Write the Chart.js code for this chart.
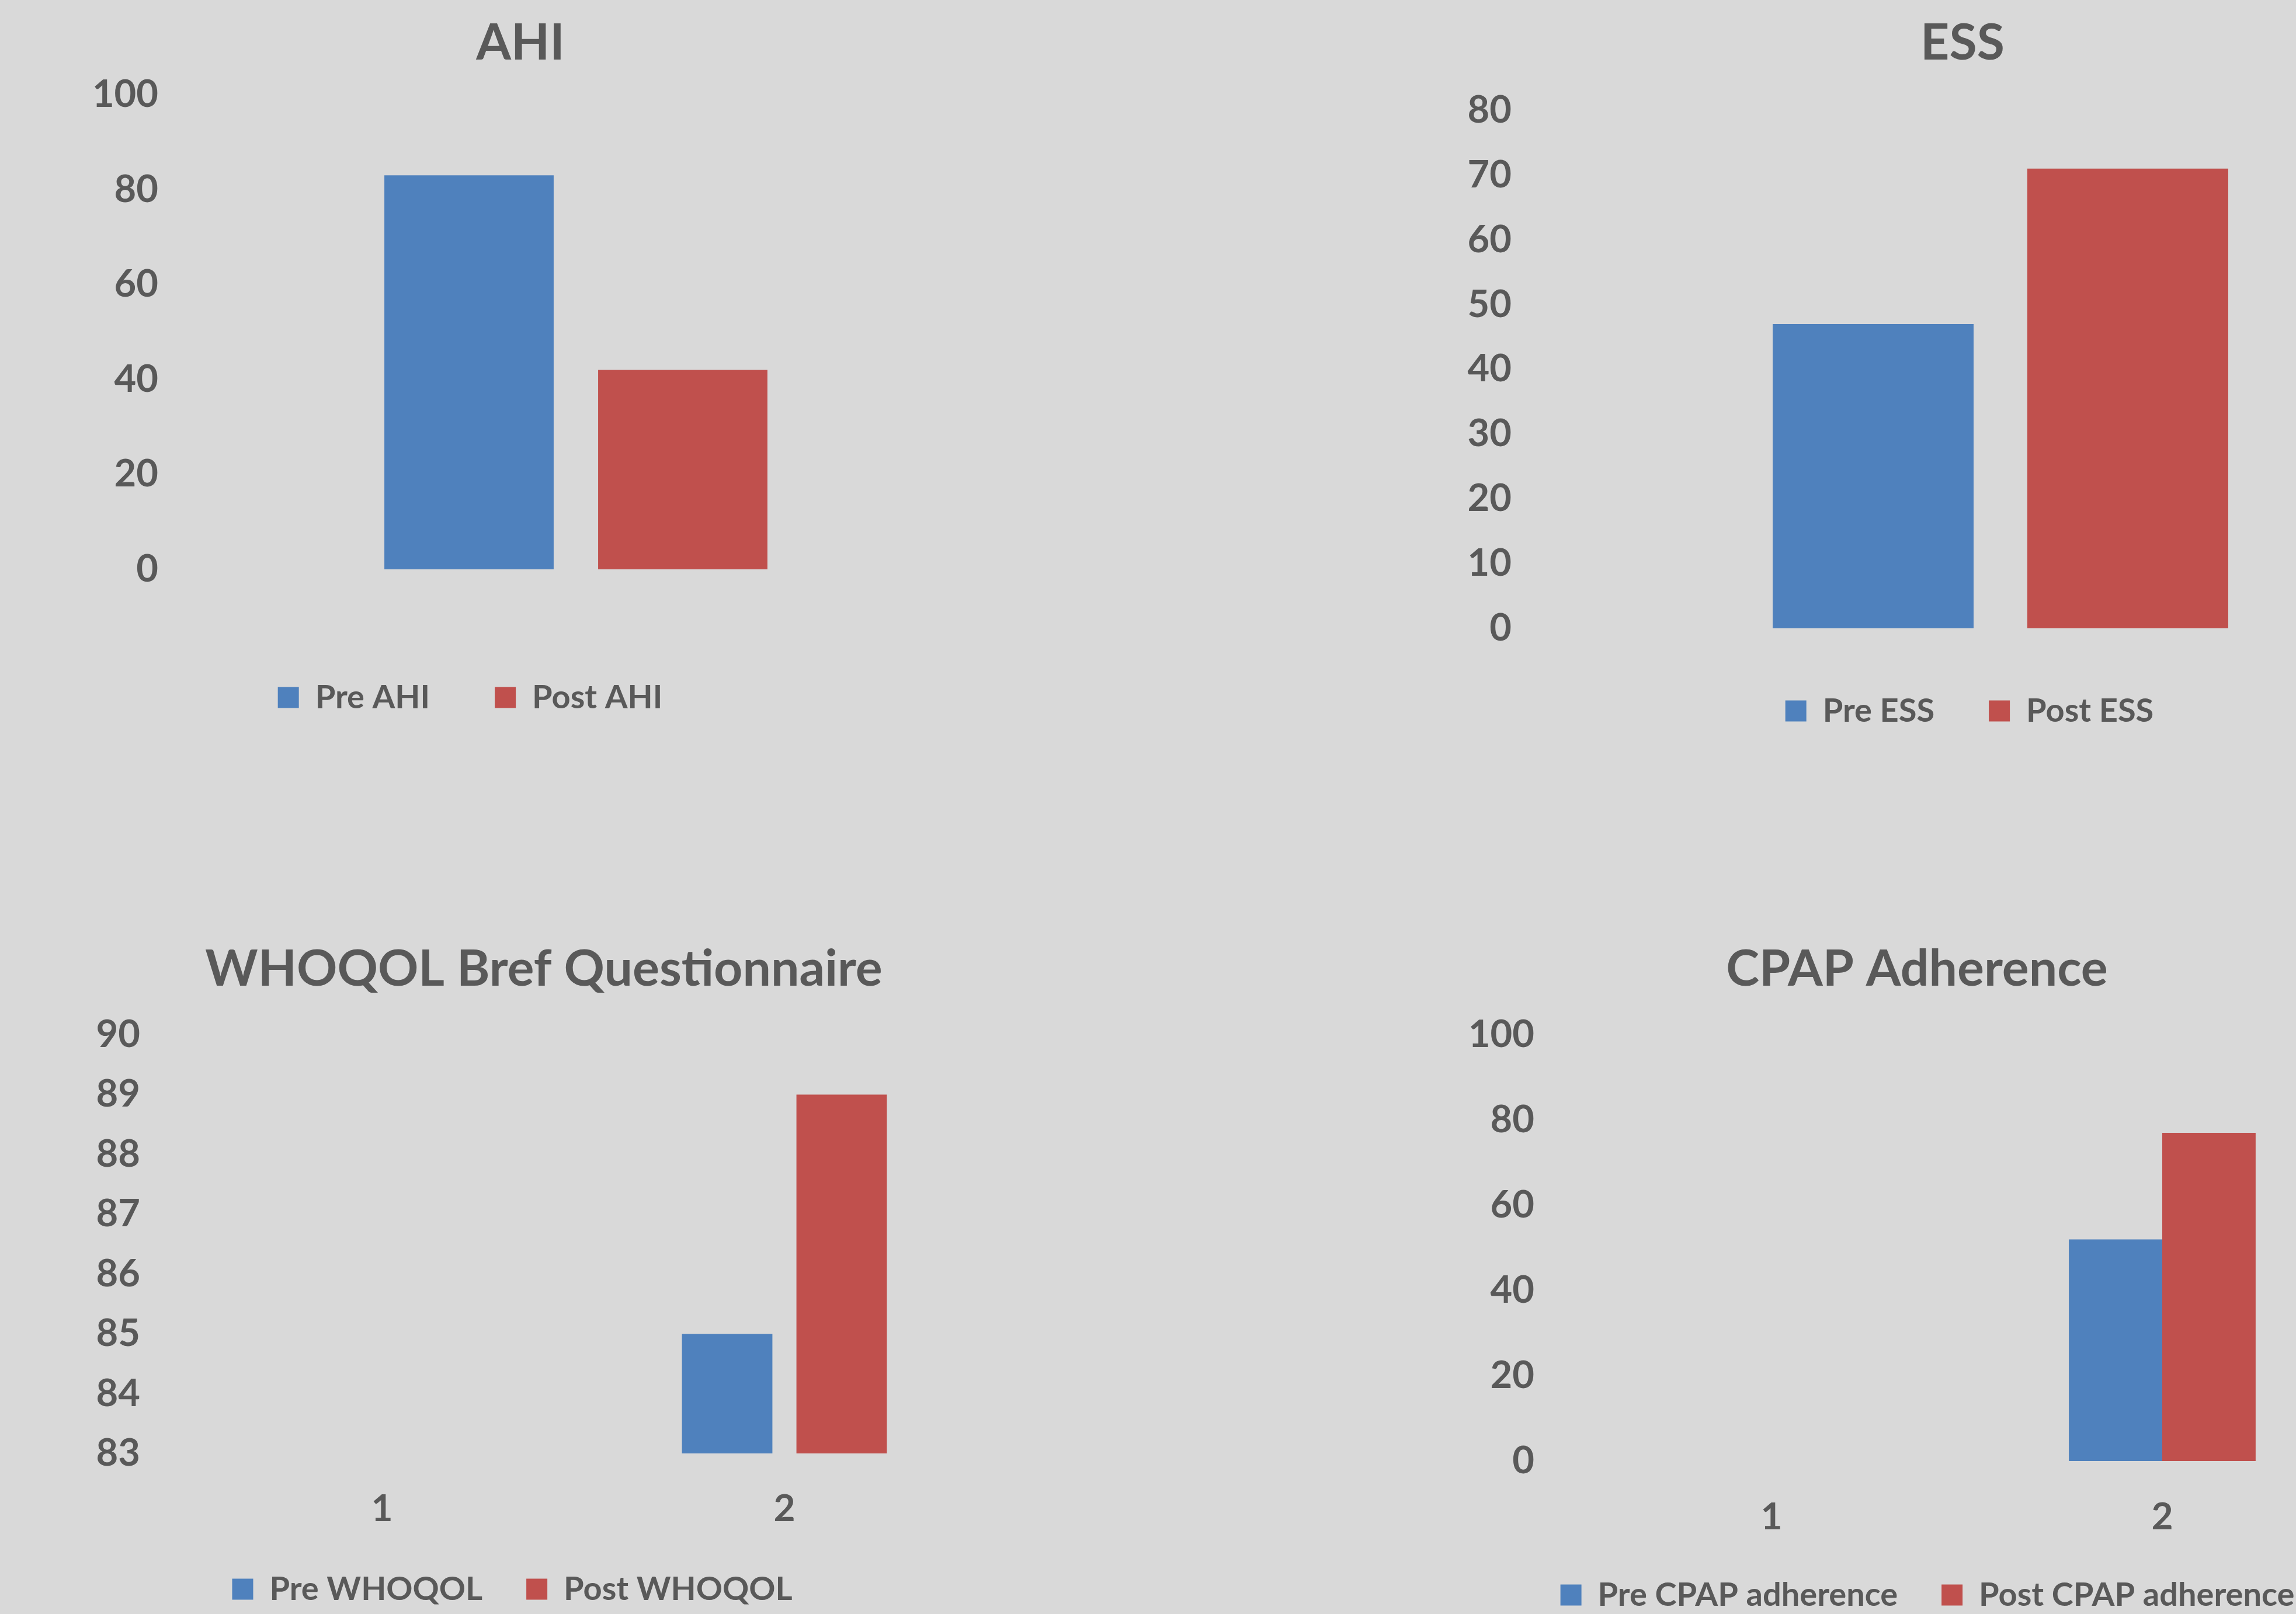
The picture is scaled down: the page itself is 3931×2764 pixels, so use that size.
<!DOCTYPE html>
<html>
<head>
<meta charset="utf-8">
<title>AHI / ESS / WHOQOL / CPAP</title>
<script src="https://cdn.jsdelivr.net/npm/chart.js@4.4.1/dist/chart.umd.min.js"></script>
<style>
  html, body { margin: 0; padding: 0; background: #d9d9d9; overflow: hidden; }
  body { width: 3931px; height: 2764px; position: relative; }
  canvas { position: absolute; }
</style>
</head>
<body>
<canvas id="ahi"></canvas>
<canvas id="ess"></canvas>
<canvas id="whoqol"></canvas>
<canvas id="cpap"></canvas>
<script>
// data
const ahiCategories = [''];
const preAhi = [83];
const postAhi = [42];
const ahiTicks = [0, 20, 40, 60, 80, 100];

const essCategories = [''];
const preEss = [47];
const postEss = [71];
const essTicks = [0, 10, 20, 30, 40, 50, 60, 70, 80];

const whoqolCategories = ['1', '2'];
const preWhoqol = [null, 85];
const postWhoqol = [null, 89];
const whoqolTicks = [83, 84, 85, 86, 87, 88, 89, 90];

const cpapCategories = ['1', '2'];
const preCpap = [null, 52];
const postCpap = [null, 77];
const cpapTicks = [0, 20, 40, 60, 80, 100];

const TEXT = '#595959';
const BLUE = '#4f81bd';
const RED = '#c0504d';
const FONT = "Lato, 'Open Sans', sans-serif";

const TITLE_SIZE = 86;
const TICK_SIZE = 65;
const CAT_SIZE = 64;
const LEGEND_SIZE = 56;

// box = canvas on the page, p = where things sit on the page
function drawPanel(id, box, title, names, categories, pre, post, ticks, p) {
    const cv = document.getElementById(id);
    cv.width = box.w;
    cv.height = box.h;
    cv.style.left = box.x + 'px';
    cv.style.top = box.y + 'px';
    cv.style.width = box.w + 'px';
    cv.style.height = box.h + 'px';

    const showCats = categories.some(c => c !== '');
    const titleH = TITLE_SIZE * 1.2;
    const legendH = LEGEND_SIZE + p.legendGap + 10;
    const xAxisH = showCats ? 150 : 40;
    const plotL = p.plot.l - box.x;
    const plotR = p.plot.r - box.x;
    const plotT = p.plot.t - box.y;
    const plotB = p.plot.b - box.y;

    // move title and legend to where they are in the picture
    const placer = {
        id: 'placer',
        afterLayout(chart) {
            const t = chart.titleBlock;
            let dx = p.title.x - box.x - (t.left + t.right) / 2;
            let dy = p.title.y - box.y + 5 - (t.top + titleH / 2);
            t.left += dx; t.right += dx; t.top += dy; t.bottom += dy;

            const lg = chart.legend;
            dx = p.legend.x - box.x - (lg.left + lg.right) / 2;
            dy = p.legend.y - box.y - 1.5 - (lg.top + p.legendGap + LEGEND_SIZE / 2);
            lg.left += dx; lg.right += dx; lg.top += dy; lg.bottom += dy;
        }
    };

    new Chart(cv, {
        type: 'bar',
        data: {
            labels: categories,
            datasets: [
                { label: names[0], data: pre, backgroundColor: BLUE, borderWidth: 0,
                  barPercentage: p.bp, categoryPercentage: p.cp },
                { label: names[1], data: post, backgroundColor: RED, borderWidth: 0,
                  barPercentage: p.bp, categoryPercentage: p.cp }
            ]
        },
        options: {
            responsive: false,
            animation: false,
            layout: {
                padding: {
                    left: 0,
                    top: plotT - titleH,
                    right: box.w - plotR,
                    bottom: box.h - plotB - xAxisH - legendH
                }
            },
            plugins: {
                title: {
                    display: true,
                    text: title,
                    color: TEXT,
                    font: { family: FONT, size: TITLE_SIZE, weight: 'bold' },
                    padding: 0
                },
                legend: {
                    position: 'bottom',
                    labels: {
                        color: TEXT,
                        font: { family: FONT, size: LEGEND_SIZE, weight: 'bold' },
                        boxWidth: 36,
                        boxHeight: 36,
                        padding: p.legendGap
                    }
                },
                tooltip: { enabled: false }
            },
            scales: {
                x: {
                    grid: { display: false, drawTicks: false },
                    border: { display: false },
                    ticks: {
                        display: showCats,
                        color: TEXT,
                        font: { family: FONT, size: CAT_SIZE, weight: 'bold' },
                        padding: showCats ? p.catY - 2.5 - p.plot.b - CAT_SIZE * 0.6 : 0
                    },
                    afterFit: s => { s.height = xAxisH; }
                },
                y: {
                    min: ticks[0],
                    max: ticks[ticks.length - 1],
                    grid: { display: false, drawTicks: false },
                    border: { display: false },
                    ticks: {
                        stepSize: ticks[1] - ticks[0],
                        autoSkip: false,
                        color: TEXT,
                        font: { family: FONT, size: TICK_SIZE, weight: 'bold' },
                        padding: p.plot.l - p.tickRight
                    },
                    afterFit: s => { s.width = plotL; }
                }
            }
        },
        plugins: [placer]
    });
}

drawPanel('ahi', { x: 0, y: 0, w: 1965, h: 1382 }, 'AHI', ['Pre AHI', 'Post AHI'],
    ahiCategories, preAhi, postAhi, ahiTicks, {
        plot: { l: 300, r: 1672, t: 162, b: 975 },
        tickRight: 271,
        title: { x: 891, y: 69 },
        legend: { x: 805, y: 1196 },
        legendGap: 111,
        cp: 0.5335, bp: 0.792
    });

drawPanel('ess', { x: 1965, y: 0, w: 2400, h: 1382 }, 'ESS', ['Pre ESS', 'Post ESS'],
    essCategories, preEss, postEss, essTicks, {
        plot: { l: 2620, r: 4230, t: 189, b: 1076 },
        tickRight: 2588,
        title: { x: 3360, y: 69 },
        legend: { x: 3372, y: 1219 },
        legendGap: 93,
        cp: 0.5416, bp: 0.789
    });

drawPanel('whoqol', { x: 0, y: 1382, w: 1965, h: 1600 }, 'WHOQOL Bref Questionnaire',
    ['Pre WHOQOL', 'Post WHOQOL'],
    whoqolCategories, preWhoqol, postWhoqol, whoqolTicks, {
        plot: { l: 309.5, r: 1687.5, t: 1772, b: 2489 },
        tickRight: 240,
        catY: 2587,
        title: { x: 931, y: 1655 },
        legend: { x: 877, y: 2723 },
        legendGap: 75,
        cp: 0.569, bp: 0.79
    });

drawPanel('cpap', { x: 1965, y: 1382, w: 2400, h: 1600 }, 'CPAP Adherence',
    ['Pre CPAP adherence', 'Post CPAP adherence'],
    cpapCategories, preCpap, postCpap, cpapTicks, {
        plot: { l: 2698.5, r: 4036.5, t: 1772, b: 2502 },
        tickRight: 2627,
        catY: 2601,
        title: { x: 3282, y: 1655 },
        legend: { x: 3300, y: 2733 },
        legendGap: 75,
        cp: 0.478, bp: 1.0
    });
</script>
</body>
</html>
